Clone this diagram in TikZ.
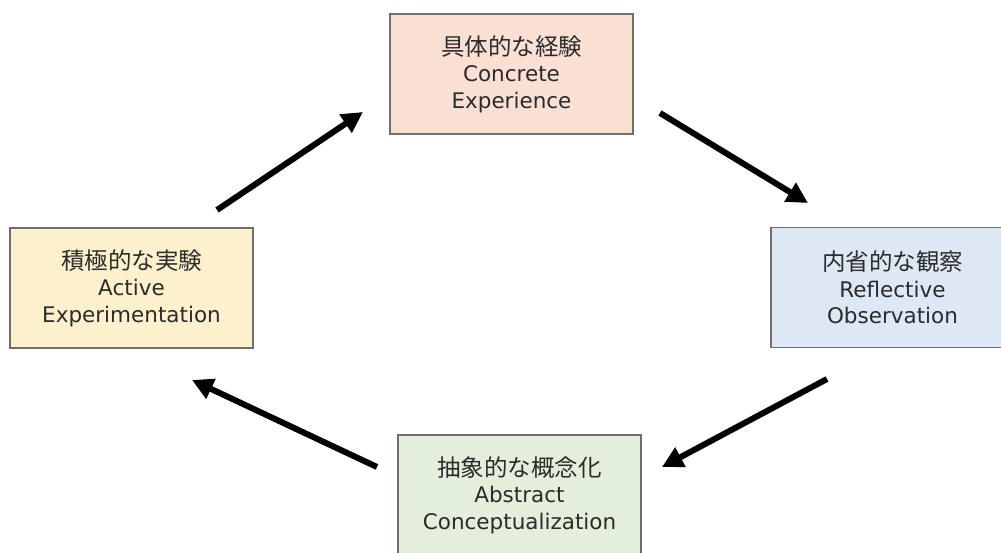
\documentclass[tikz,border=0pt]{standalone}
\usepackage{fontspec}
\setmainfont{DejaVu Sans}
\newfontfamily\jpfont{Noto Sans CJK JP}
\usetikzlibrary{arrows.meta}

\definecolor{frame}{HTML}{6E6E6E}
\definecolor{ink}{HTML}{2B2B2B}
\definecolor{cepeach}{HTML}{F9E0D3}
\definecolor{roblue}{HTML}{DDE8F4}
\definecolor{acgreen}{HTML}{E3EFDA}
\definecolor{aeyellow}{HTML}{FDF1CD}

\newcommand{\jpline}[1]{{\jpfont\fontsize{23.5}{26.5}\selectfont #1}}

\begin{document}
\begin{tikzpicture}[x=1pt,y=-1pt,
  stage/.style={draw=frame, line width=1.8pt, minimum width=243pt,
    minimum height=120pt, inner sep=0pt, align=center, text=ink,
    font=\fontsize{21.5}{26.5}\selectfont},
  cyclearrow/.style={line width=6pt, -{Triangle[length=21pt,width=21pt]}}]

\useasboundingbox (0,0) rectangle (1001,553);

% the four stages of the learning cycle
\node[stage, fill=cepeach]  (ce) at (511.5,74)
  {\jpline{具体的な経験}\\Concrete\\Experience};
\node[stage, fill=roblue]   (ro) at (892.5,287.5)
  {\jpline{内省的な観察}\\Reflective\\Observation};
\node[stage, fill=acgreen]  (ac) at (519.5,495)
  {\jpline{抽象的な概念化}\\Abstract\\Conceptualization};
\node[stage, fill=aeyellow] (ae) at (131.5,288)
  {\jpline{積極的な実験}\\Active\\Experimentation};

% arrow end points between the stages
\coordinate (ae-out) at (217,210);
\coordinate (ce-in)  at (363,112);
\coordinate (ce-out) at (660,113);
\coordinate (ro-in)  at (808,203);
\coordinate (ro-out) at (827,379);
\coordinate (ac-in)  at (662,467);
\coordinate (ac-out) at (377,467);
\coordinate (ae-in)  at (192,380);

\draw[cyclearrow] (ae-out) -- (ce-in);
\draw[cyclearrow] (ce-out) -- (ro-in);
\draw[cyclearrow] (ro-out) -- (ac-in);
\draw[cyclearrow] (ac-out) -- (ae-in);
\end{tikzpicture}
\end{document}
